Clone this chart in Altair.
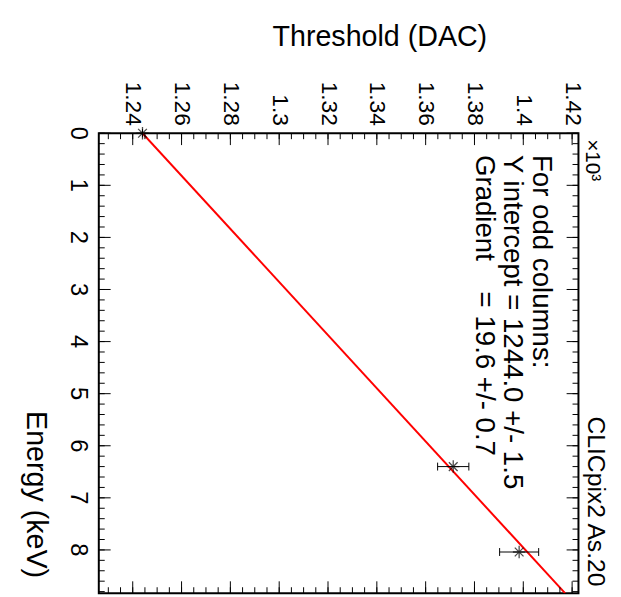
import altair as alt
import pandas as pd

# ---- data ----
energy_kev = [0.0, 6.4, 8.04]
threshold_dac = [1244.0, 1371.3, 1398.3]
threshold_err = [0.0, 6.4, 8.0]

fit_energy = [0.0, 8.83]
fit_threshold = [1244.0, 1417.1]

stats_lines = ["For odd columns:", "Y intercept = 1244.0 +/- 1.5",
               "Gradient\u00a0\u00a0\u00a0 = 19.6 +/- 0.7"]

energy_major = [0, 1, 2, 3, 4, 5, 6, 7, 8]
energy_minor = [round(i * 0.2, 1) for i in range(0, 45)]
thr_major = [1240, 1260, 1280, 1300, 1320, 1340, 1360, 1380, 1400, 1420]
thr_minor = [1230 + 5 * i for i in range(0, 39)]

W, H = 486, 466
FONT = "Liberation Sans"

pts = pd.DataFrame({
    "E": energy_kev,
    "T": threshold_dac,
    "lo": [t - e for t, e in zip(threshold_dac, threshold_err)],
    "hi": [t + e for t, e in zip(threshold_dac, threshold_err)],
})
fit = pd.DataFrame({"E": fit_energy, "T": fit_threshold})

xscale = alt.Scale(domain=[1226.1, 1422.6], nice=False, zero=False)
yscale = alt.Scale(domain=[0, 8.83], nice=False, zero=False, reverse=True)

x_axis = alt.Axis(
    orient="top", values=thr_major, labelExpr="format(datum.value/1000, '.2~f')",
    labelAngle=90, labelAlign="right", labelBaseline="middle", labelPadding=8,
    labelFontSize=23, labelFont=FONT, labelColor="black",
    ticks=False, tickSize=0, domain=False, grid=False,
    title="Threshold (DAC)", titleFont=FONT, titleFontSize=29, titleFontWeight="normal",
    titleColor="black", titleAngle=0, titleAlign="right", titleBaseline="middle",
    titleX=393, titleY=-98,
)
y_axis = alt.Axis(
    orient="left", values=energy_major, labels=False,
    ticks=False, tickSize=0, domain=False, grid=False,
    title="Energy (keV)", titleFont=FONT, titleFontSize=29, titleFontWeight="normal",
    titleColor="black", titleAngle=90, titleAlign="left", titleBaseline="middle",
    titleX=-64, titleY=281,
)

base_x = alt.X("T:Q", scale=xscale, axis=x_axis)
base_y = alt.Y("E:Q", scale=yscale, axis=y_axis)

fit_line = alt.Chart(fit).mark_line(color="#ff0000", strokeWidth=2, clip=True).encode(x=base_x, y=base_y)

err = alt.Chart(pts).mark_rule(color="black", strokeWidth=1).encode(
    x=alt.X("lo:Q", scale=xscale), x2="hi:Q", y=alt.Y("E:Q", scale=yscale))
cap_lo = alt.Chart(pts).mark_rule(color="black", strokeWidth=1, yOffset=-4, y2Offset=4).encode(
    x=alt.X("lo:Q", scale=xscale), y=alt.Y("E:Q", scale=yscale), y2="E:Q")
cap_hi = alt.Chart(pts).mark_rule(color="black", strokeWidth=1, yOffset=-4, y2Offset=4).encode(
    x=alt.X("hi:Q", scale=xscale), y=alt.Y("E:Q", scale=yscale), y2="E:Q")

star = "M-1,0L1,0M0,-1L0,1M-0.7,-0.7L0.7,0.7M-0.7,0.7L0.7,-0.7"
markers = alt.Chart(pts).mark_point(shape=star, filled=False, stroke="black", strokeWidth=1.3, size=160).encode(
    x=alt.X("T:Q", scale=xscale), y=alt.Y("E:Q", scale=yscale))

# energy tick labels, rotated like the rest of the picture
elab = pd.DataFrame({"E": energy_major, "lab": [str(v) for v in energy_major]})
energy_labels = alt.Chart(elab).mark_text(
    angle=90, align="center", baseline="middle", font=FONT, fontSize=24, color="black"
).encode(y=alt.Y("E:Q", scale=yscale), x=alt.value(-21), text="lab:N")

# ticks pointing into the frame (ROOT style)
emaj = pd.DataFrame({"E": energy_major})
emin = pd.DataFrame({"E": energy_minor})
tmaj = pd.DataFrame({"T": thr_major})
tmin = pd.DataFrame({"T": thr_minor})

def eticks(df, length):
    l = alt.Chart(df).mark_rule(color="black", strokeWidth=1).encode(
        y=alt.Y("E:Q", scale=yscale), x=alt.value(0), x2=alt.value(length))
    r = alt.Chart(df).mark_rule(color="black", strokeWidth=1).encode(
        y=alt.Y("E:Q", scale=yscale), x=alt.value(W), x2=alt.value(W - length))
    return l + r

def tticks(df, length):
    t = alt.Chart(df).mark_rule(color="black", strokeWidth=1).encode(
        x=alt.X("T:Q", scale=xscale), y=alt.value(0), y2=alt.value(length))
    b = alt.Chart(df).mark_rule(color="black", strokeWidth=1).encode(
        x=alt.X("T:Q", scale=xscale), y=alt.value(H), y2=alt.value(H - length))
    return t + b

ticks = eticks(emaj, 12) + eticks(emin, 6) + tticks(tmaj, 12) + tticks(tmin, 6)

def label(txt, x, y, size, align="left"):
    return alt.Chart(pd.DataFrame({"t": [txt]})).mark_text(
        angle=90, align=align, baseline="middle", font=FONT, fontSize=size, color="black"
    ).encode(text="t:N", x=alt.value(x), y=alt.value(y))

stats = (label(stats_lines[0], 448, 22, 28) + label(stats_lines[1], 419, 22, 28)
         + label(stats_lines[2], 390, 22, 28))
title_txt = label("CLICpix2 As.20", 504, 287, 25)
exp_txt = label("×10³", 500, 6, 21)

chart = alt.layer(fit_line, err, cap_lo, cap_hi, markers, ticks, energy_labels,
                  stats, title_txt, exp_txt).properties(
    width=W, height=H,
    autosize=alt.AutoSizeParams(type="none"),
    padding={"left": 92, "top": 123, "right": 35, "bottom": 0},
    background="white",
).configure_view(stroke="black", strokeWidth=2)

chart.save("out.html", embed_options={"renderer": "svg", "actions": False})
